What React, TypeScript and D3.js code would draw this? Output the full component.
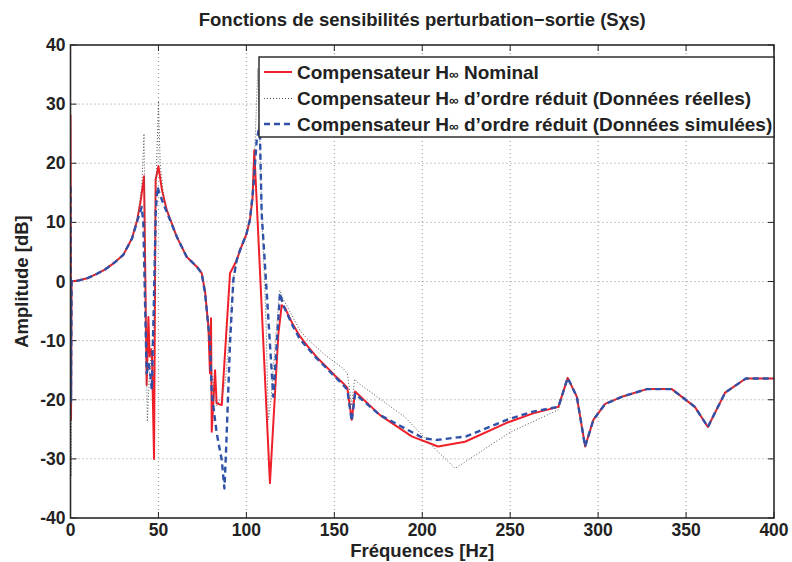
import React from "react";
import * as d3 from "d3";

const TITLE = "Fonctions de sensibilités perturbation−sortie (Sχs)";
const X_LABEL = "Fréquences [Hz]";
const Y_LABEL = "Amplitude [dB]";
const X_TICKS = [0, 50, 100, 150, 200, 250, 300, 350, 400];
const Y_TICKS = [-40, -30, -20, -10, 0, 10, 20, 30, 40];
const LEGEND = [
  { pre: "Compensateur H", post: " Nominal" },
  { pre: "Compensateur H", post: " d’ordre réduit (Données réelles)" },
  { pre: "Compensateur H", post: " d’ordre réduit (Données simulées)" },
];

// Nominal H∞ compensator (red solid)
const nomFreq = [0, 0.3, 0.6, 5, 10, 15, 20, 25, 30, 35, 38, 40, 41.8, 43.3, 44.3, 45, 45.7, 46.3, 47.5, 48.4, 50, 52, 54.7, 60.4, 66, 71.8, 74.6, 76.5, 78.4, 79.3, 79.9, 80.3, 82.2, 83.1, 86, 90.7, 94.5, 96.4, 100, 102, 103.5, 104.5, 113.4, 118.2, 120.1, 122, 126, 130.5, 135, 140, 145, 150, 155, 157.4, 159.9, 161.8, 176, 194, 209, 224.3, 248, 263, 277.4, 282.7, 287.9, 292.6, 297.3, 304, 314.4, 327.7, 341.9, 355, 362.4, 372.2, 384, 400];
const nomDb = [28.2, -23.4, 0, 0.2, 0.6, 1.3, 2.1, 3.2, 4.5, 7.3, 10.5, 13.8, 17.8, -17.5, -6, -12.7, -11.5, -12, -30, 17.2, 19.5, 15.5, 12.1, 7.6, 4.2, 2.5, 1.4, -1.7, -7.6, -15.5, -6.2, -25.4, -15, -20.6, -20.9, 1.4, 3.6, 5.3, 8, 10.4, 14, 22.2, -34.1, -8.8, -4, -4.5, -7, -9.3, -11, -12.8, -14.3, -15.8, -17.2, -18, -23.4, -18.6, -22.6, -26.2, -27.9, -27.1, -23.9, -22.3, -21.2, -16.3, -19.5, -27.9, -23.4, -20.7, -19.4, -18.2, -18.2, -21.2, -24.6, -18.8, -16.4, -16.4];

// Reduced-order compensator, real data (gray dotted)
const realFreq = [0, 0.3, 0.6, 5, 10, 15, 20, 25, 30, 35, 38, 40.5, 41.8, 43, 43.7, 45, 46, 47.5, 48.5, 50, 51, 53, 54.7, 60.4, 66, 71.8, 74.6, 76.5, 79.3, 80.3, 81.5, 83.1, 86, 88, 90.7, 92.6, 94.5, 96.4, 100, 102, 104, 106.5, 108.7, 111, 112.5, 114, 116.5, 119, 121, 130.5, 134.3, 145, 155, 157.4, 159.9, 161.5, 163.7, 190, 208, 218.7, 250, 277.4, 282.7, 287.9, 292.6, 297.3, 304, 314.4, 327.7, 341.9, 355, 362.4, 372.2, 384, 400];
const realDb = [20, -33, 0, 0.2, 0.6, 1.3, 2.1, 3.2, 4.5, 7.3, 10.5, 16, 25, -10, -23.7, -15, -12, -8, 15, 30.5, 20, 14, 12.1, 7.6, 4.2, 2.5, 1.4, -2, -10, -15, -19, -21, -19.5, -17, -8, 0.5, 3.6, 5.3, 8, 10.4, 16, 36, 12, -5, -23.4, -20, -10, -1.5, -3, -8.3, -9.6, -12.5, -14.7, -15.5, -21, -16.5, -17.2, -22.9, -28.5, -31.6, -25.5, -21.7, -16.3, -19.5, -27.9, -23.4, -20.7, -19.4, -18.2, -18.2, -21.2, -24.6, -18.8, -16.4, -16.4];

// Reduced-order compensator, simulated data (blue dashed)
const simFreq = [0, 0.3, 0.6, 5, 10, 15, 20, 25, 30, 35, 38, 40.5, 41.4, 42.5, 43.3, 44.5, 45.5, 46.2, 47.3, 48.5, 49.5, 50.5, 53, 54.7, 60.4, 66, 71.8, 74.6, 76.5, 79.3, 80.3, 83.1, 86, 87.5, 88.4, 90.7, 92.6, 94.5, 96.4, 100, 102, 104, 105.9, 107.6, 108.7, 111.6, 113.4, 115.3, 117.3, 119.1, 121, 126, 130.5, 140, 150, 155, 157.4, 159.9, 161.8, 176, 200.6, 208, 225, 248, 263, 277.4, 282.7, 287.9, 292.6, 297.3, 304, 314.4, 327.7, 341.9, 355, 362.4, 372.2, 384, 400];
const simDb = [16, -20.3, 0, 0.2, 0.6, 1.3, 2.1, 3.2, 4.5, 7.3, 10.3, 12.6, 10, -5, -15.5, -14, -16, -18.3, -5, 12, 16, 15, 13, 11.8, 7.6, 4.2, 2.5, 1.4, -2, -10.4, -18.9, -25.6, -30.2, -35, -29, -10.4, 0.3, 3.6, 5.3, 8, 10.4, 16, 24, 26.5, 11.5, -2, -10.5, -19.5, -10.5, -2, -4, -7.3, -9.8, -13, -16, -17.5, -18.3, -23.6, -19, -22.6, -26.5, -26.8, -26.2, -23.4, -22, -21.2, -16.3, -19.5, -27.9, -23.4, -20.7, -19.4, -18.2, -18.2, -21.2, -24.6, -18.8, -16.4, -16.4];

const W = 792;
const H = 562;
const M = { left: 70.5, right: 774, top: 45, bottom: 518 };
const FONT = "'Liberation Sans', Arial, Helvetica, sans-serif";

export default function App() {
  const x = d3.scaleLinear().domain([0, 400]).range([M.left, M.right]);
  const y = d3.scaleLinear().domain([-40, 40]).range([M.bottom, M.top]);
  const line = d3
    .line<[number, number]>()
    .x((d) => x(d[0]))
    .y((d) => y(d[1]));
  const zip = (f: number[], v: number[]) => f.map((fv, i) => [fv, v[i]] as [number, number]);

  const series = [
    { d: line(zip(nomFreq, nomDb)) || "", stroke: "#f0202a", width: 2, dash: undefined },
    { d: line(zip(realFreq, realDb)) || "", stroke: "#555", width: 1, dash: "1,2" },
    { d: line(zip(simFreq, simDb)) || "", stroke: "#2f52a8", width: 2.4, dash: "6,4" },
  ];

  const lg = { x0: 259, y0: 57, x1: 774, y1: 137 };
  const rowY = [72, 98.5, 124];

  return (
    <svg
      width={W}
      height={H}
      style={{ position: "absolute", left: 0, top: 0, background: "#fff" }}
      fontFamily={FONT}
    >
      <defs>
        <clipPath id="plot">
          <rect x={M.left} y={M.top} width={M.right - M.left} height={M.bottom - M.top} />
        </clipPath>
      </defs>
      <rect x={0} y={0} width={W} height={H} fill="#fff" />
      {/* grid */}
      {X_TICKS.slice(1, -1).map((t) => (
        <line key={"gx" + t} x1={x(t)} x2={x(t)} y1={M.top} y2={M.bottom} stroke="#777" strokeWidth={0.8} strokeDasharray="1,3" />
      ))}
      {Y_TICKS.slice(1, -1).map((t) => (
        <line key={"gy" + t} x1={M.left} x2={M.right} y1={y(t)} y2={y(t)} stroke="#777" strokeWidth={0.8} strokeDasharray="1,3" />
      ))}
      {/* ticks */}
      {X_TICKS.map((t) => (
        <g key={"tx" + t}>
          <line x1={x(t)} x2={x(t)} y1={M.bottom} y2={M.bottom - 6} stroke="#222" strokeWidth={1} />
          <line x1={x(t)} x2={x(t)} y1={M.top} y2={M.top + 6} stroke="#222" strokeWidth={1} />
          <text x={x(t)} y={M.bottom + 18} textAnchor="middle" fontSize={17.5} fontWeight="bold" fill="#222">
            {t}
          </text>
        </g>
      ))}
      {Y_TICKS.map((t) => (
        <g key={"ty" + t}>
          <line x1={M.left} x2={M.left + 6} y1={y(t)} y2={y(t)} stroke="#222" strokeWidth={1} />
          <line x1={M.right} x2={M.right - 6} y1={y(t)} y2={y(t)} stroke="#222" strokeWidth={1} />
          <text x={M.left - 5} y={y(t) + 6} textAnchor="end" fontSize={17.5} fontWeight="bold" fill="#222">
            {t}
          </text>
        </g>
      ))}
      {/* series */}
      <g clipPath="url(#plot)">
        {series.map((s, i) => (
          <path key={i} d={s.d} fill="none" stroke={s.stroke} strokeWidth={s.width} strokeDasharray={s.dash} strokeLinejoin="round" />
        ))}
      </g>
      {/* axes box */}
      <rect x={M.left} y={M.top} width={M.right - M.left} height={M.bottom - M.top} fill="none" stroke="#2a2a2a" strokeWidth={1.6} />
      {/* legend */}
      <rect x={lg.x0} y={lg.y0} width={lg.x1 - lg.x0} height={lg.y1 - lg.y0} fill="#fff" stroke="#222" strokeWidth={1.4} />
      {LEGEND.map((l, i) => (
        <g key={"lg" + i}>
          <line x1={264} x2={292} y1={rowY[i]} y2={rowY[i]} stroke={series[i].stroke} strokeWidth={series[i].width} strokeDasharray={series[i].dash} />
          <text x={297} y={rowY[i] + 6.5} fontSize={19} fontWeight="bold" fill="#222">
            {l.pre}
            <tspan fontSize={13.5}>∞</tspan>
            {l.post}
          </text>
        </g>
      ))}
      {/* labels */}
      <text x={(M.left + M.right) / 2} y={26} textAnchor="middle" fontSize={18.5} fontWeight="bold" fill="#222">
        {TITLE}
      </text>
      <text x={(M.left + M.right) / 2} y={557} textAnchor="middle" fontSize={18.5} fontWeight="bold" fill="#222">
        {X_LABEL}
      </text>
      <text transform={`translate(28, ${(M.top + M.bottom) / 2}) rotate(-90)`} textAnchor="middle" fontSize={18.5} fontWeight="bold" fill="#222">
        {Y_LABEL}
      </text>
    </svg>
  );
}
